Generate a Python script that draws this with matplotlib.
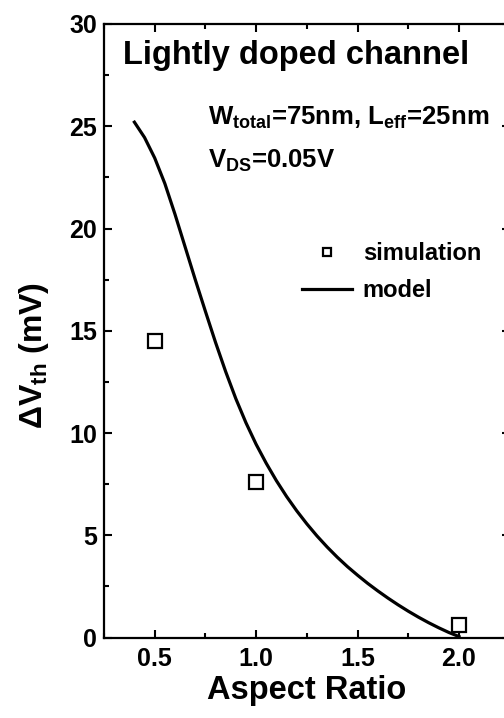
import numpy as np
import matplotlib
matplotlib.use("Agg")
import matplotlib.pyplot as plt
from matplotlib.ticker import MultipleLocator

plt.rcParams['font.family'] = ['Liberation Sans', 'DejaVu Sans']
plt.rcParams['font.weight'] = 'bold'
plt.rcParams['mathtext.fontset'] = 'custom'
plt.rcParams['mathtext.rm'] = 'Liberation Sans:bold'
plt.rcParams['mathtext.bf'] = 'Liberation Sans:bold'
plt.rcParams['mathtext.it'] = 'Liberation Sans:bold'
plt.rcParams['mathtext.default'] = 'bf'

# data
aspect_sim = [0.5, 1.0, 2.0]
dvth_sim = [14.5, 7.6, 0.6]

aspect_model = [0.40, 0.45, 0.50, 0.55, 0.60, 0.65, 0.70, 0.75, 0.80, 0.85,
                0.90, 0.95, 1.00, 1.05, 1.10, 1.15, 1.20, 1.25, 1.30, 1.35,
                1.40, 1.45, 1.50, 1.55, 1.60, 1.65, 1.70, 1.75, 1.80, 1.85,
                1.90, 1.95, 2.00]
dvth_model = [25.2, 24.45, 23.45, 22.2, 20.7, 19.1, 17.5, 15.95, 14.43, 13.0,
              11.68, 10.5, 9.45, 8.52, 7.67, 6.9, 6.2, 5.56, 4.97, 4.43,
              3.93, 3.47, 3.05, 2.65, 2.28, 1.93, 1.6, 1.29, 1.0, 0.73,
              0.48, 0.25, 0.05]

fig = plt.figure(figsize=(5.04, 7.18), dpi=100)
ax = fig.add_axes([0.2063, 0.112, 0.805, 0.8546])

ax.plot(aspect_sim, dvth_sim, linestyle='none', marker='s', markersize=9.5,
        markerfacecolor='white', markeredgecolor='black', markeredgewidth=1.6,
        label='simulation')
ax.plot(aspect_model, dvth_model, color='black', linewidth=2.3,
        solid_joinstyle='round', label='model')

ax.set_xlim(0.25, 2.25)
ax.set_ylim(0, 30)
ax.xaxis.set_major_locator(MultipleLocator(0.5))
ax.xaxis.set_minor_locator(MultipleLocator(0.25))
ax.yaxis.set_major_locator(MultipleLocator(5))
ax.yaxis.set_minor_locator(MultipleLocator(2.5))
ax.tick_params(which='both', direction='in', top=True, right=True, width=1.5)
ax.tick_params(which='major', length=6, labelsize=18, pad=5)
ax.tick_params(which='minor', length=3.6)
ax.tick_params(axis='x', which='major', pad=7)
ax.set_xticks([0.5, 1.0, 1.5, 2.0])
ax.set_xticklabels(['0.5', '1.0', '1.5', '2.0'])
for s in ax.spines.values():
    s.set_linewidth(1.6)

ax.set_xlabel('Aspect Ratio', fontsize=23.5, fontweight='bold', labelpad=3)
ax.set_ylabel(r'$\Delta$V$_{th}$ (mV)', fontsize=23, fontweight='bold')
ax.yaxis.set_label_coords(-0.13, 0.46)

ax.text(0.342, 28.05, 'Lightly doped channel', fontsize=23.5, fontweight='bold',
        va='baseline', ha='left')
ax.text(0.764, 25.07, r'W$_{total}$=75nm, L$_{eff}$=25nm', fontsize=18.5,
        fontweight='bold', va='baseline', ha='left')
ax.text(0.764, 22.95, r'V$_{DS}$=0.05V', fontsize=18.5, fontweight='bold',
        va='baseline', ha='left')

ax.legend(loc='upper left', bbox_to_anchor=(0.488, 0.6445), frameon=False,
          fontsize=17, markerscale=0.55, handlelength=2.1, handletextpad=0.47,
          borderpad=0, borderaxespad=0, labelspacing=0.6)

fig.savefig('out.png', dpi=100)
